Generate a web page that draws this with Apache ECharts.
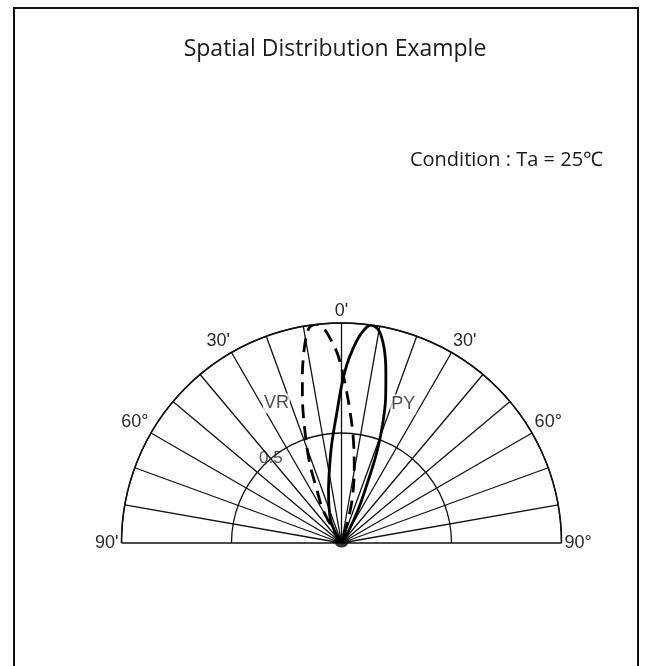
<!DOCTYPE html>
<html>
<head>
<meta charset="utf-8">
<script src="https://cdn.jsdelivr.net/npm/echarts@6/dist/echarts.min.js"></script>
<style>
html, body { margin: 0; padding: 0; background: #fff; }
#main { width: 651px; height: 666px; }
</style>
</head>
<body>
<div id="main"></div>
<script>
// angle tick labels (degrees from the axis, left = -90, right = +90)
const tickValues = [-90, -60, -30, 0, 30, 60, 90];
const tickLabels = ["90'", "60°", "30'", "0'", "30'", "60°", "90°"];

// relative sensitivity, [radius, angle]
const vrData = [
    [0, -30], [0.165, -29.6], [0.276, -24.5], [0.40, -21.5],
    [0.558, -17.6], [0.696, -14.8], [0.79, -13.0], [0.877, -11.3],
    [0.944, -9.9], [0.988, -8.6], [1.0, -7.4], [1.0, -5.9], [0.98, -4.7],
    [0.915, -2.7], [0.85, -1.0], [0.729, 1.2], [0.604, 3.6], [0.489, 6.2],
    [0.351, 9.5], [0.212, 13.5], [0.10, 16], [0, 16]
];
const pyData = [
    [0, -30], [0.06, -30], [0.123, -24.6], [0.244, -14], [0.35, -8.9],
    [0.457, -5.5], [0.595, -2.0], [0.72, 0.1], [0.805, 1.6], [0.885, 3.4],
    [0.957, 5.4], [1.0, 7.7], [0.978, 10.1], [0.90, 12.5], [0.80, 14.6],
    [0.69, 16.9], [0.56, 19.3], [0.44, 21.3], [0.30, 23.3], [0.17, 26.5],
    [0.06, 31], [0, 31]
];

// text marks placed in data space
const markNames = ['VR', 'PY', '0.5'];
const markPos = [[0.70, -25], [0.69, 24], [0.5, -40]];

const titleText = 'Spatial Distribution Example';
const conditionText = 'Condition : Ta = 25℃';

const chart = echarts.init(document.getElementById('main'));

const labelFor = (v) => {
    const i = tickValues.indexOf(v);
    return i < 0 ? '' : tickLabels[i];
};

chart.setOption({
    animation: false,
    backgroundColor: '#fff',
    polar: {
        center: [341.5, 543],
        radius: 220
    },
    angleAxis: {
        type: 'value',
        min: -90,
        max: 90,
        interval: 10,
        startAngle: 180,
        endAngle: 0,
        clockwise: true,
        axisLine: { show: true, lineStyle: { color: '#111', width: 1.5 } },
        axisTick: { show: false },
        splitLine: { show: true, lineStyle: { color: '#111', width: 1.3 } },
        axisLabel: {
            margin: 3,
            color: '#2a2a2a',
            fontSize: 18,
            fontFamily: '"Liberation Sans", Arial, sans-serif',
            formatter: labelFor
        }
    },
    radiusAxis: {
        type: 'value',
        min: 0,
        max: 1,
        interval: 0.5,
        axisLine: { show: false },
        axisTick: { show: false },
        axisLabel: { show: false },
        splitLine: { show: true, lineStyle: { color: '#111', width: 1.3 } }
    },
    graphic: [
        {
            type: 'rect',
            shape: { x: 14, y: 8, width: 624, height: 700 },
            style: { fill: 'none', stroke: '#111', lineWidth: 2 },
            silent: true
        },
        {
            type: 'text',
            x: 335,
            y: 49,
            style: {
                text: titleText,
                align: 'center',
                verticalAlign: 'middle',
                fill: '#1a1a1a',
                font: '23px "Open Sans", "Noto Sans", sans-serif'
            }
        },
        {
            type: 'text',
            x: 603,
            y: 160,
            style: {
                text: conditionText,
                align: 'right',
                verticalAlign: 'middle',
                fill: '#1a1a1a',
                font: '20px "Open Sans", "Noto Sans", "Noto Sans CJK SC", sans-serif'
            }
        }
    ],
    series: [
        {
            name: 'VR',
            type: 'line',
            coordinateSystem: 'polar',
            data: vrData,
            smooth: 0.35,
            showSymbol: false,
            silent: true,
            lineStyle: { color: '#000', width: 2.8, type: [14, 8] }
        },
        {
            name: 'PY',
            type: 'line',
            coordinateSystem: 'polar',
            data: pyData,
            smooth: 0.35,
            showSymbol: false,
            silent: true,
            lineStyle: { color: '#000', width: 2.8 }
        },
        {
            // dark hub where all the rays meet
            type: 'scatter',
            coordinateSystem: 'polar',
            symbol: 'circle',
            symbolSize: [13, 9],
            silent: true,
            itemStyle: { color: '#000' },
            data: [[0, 0]]
        },
        {
            type: 'scatter',
            coordinateSystem: 'polar',
            symbolSize: 0,
            silent: true,
            data: markPos.map((p, i) => ({
                value: p,
                label: {
                    show: true,
                    position: 'inside',
                    formatter: markNames[i],
                    color: '#222',
                    fontSize: i < 2 ? 18 : 17,
                    fontFamily: '"Liberation Sans", Arial, sans-serif',
                    backgroundColor: i < 2 ? '#fff' : 'transparent',
                    padding: [1, 1]
                }
            }))
        }
    ]
});
</script>
</body>
</html>
